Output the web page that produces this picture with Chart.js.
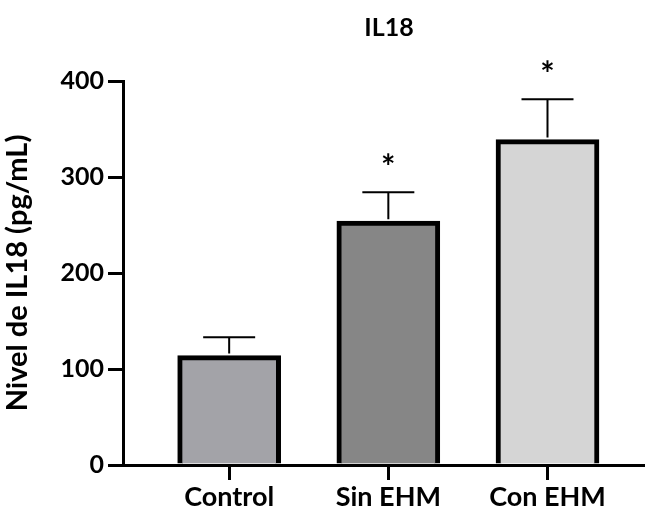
<!DOCTYPE html>
<html>
<head>
<meta charset="utf-8">
<script src="https://cdn.jsdelivr.net/npm/chart.js@4.4.1/dist/chart.umd.min.js"></script>
<style>
  html, body { margin: 0; padding: 0; background: #fff; }
  #wrap { width: 645px; height: 519px; }
</style>
</head>
<body>
<div id="wrap"><canvas id="il18Chart"></canvas></div>
<script>
// Data
const categories = ['Control', 'Sin EHM', 'Con EHM'];
const means = [114, 254, 339];
const errors = [19, 30, 42];          // upper SD/SEM bar length
const significant = [false, true, true];
const yTicks = [0, 100, 200, 300, 400];

const barColors = ['#a3a3a8', '#868686', '#d5d5d5'];
const fontFamily = 'Lato, "Open Sans", sans-serif';

// Error bars (upper half only), asterisks and the title centred over the plot
const errorBarPlugin = {
    id: 'errorBars',
    afterDatasetsDraw(chart) {
        const ctx = chart.ctx;
        const xs = chart.scales.x;
        const ys = chart.scales.y;
        const area = chart.chartArea;
        ctx.save();
        ctx.strokeStyle = '#000';
        ctx.fillStyle = '#000';
        means.forEach((m, i) => {
            const x = xs.getPixelForValue(i);
            const yTop = ys.getPixelForValue(m);
            const yErr = ys.getPixelForValue(m + errors[i]);
            ctx.lineWidth = 2;
            ctx.beginPath();
            ctx.moveTo(x, yTop - 2);
            ctx.lineTo(x, yErr);
            ctx.moveTo(x - 26, yErr);
            ctx.lineTo(x + 26, yErr);
            ctx.stroke();
            if (significant[i]) {
                ctx.font = 'bold 34px ' + fontFamily;
                ctx.textAlign = 'center';
                ctx.textBaseline = 'middle';
                ctx.fillText('*', x, yErr - 24);
            }
        });
        ctx.font = 'bold 25px ' + fontFamily;
        ctx.textAlign = 'center';
        ctx.textBaseline = 'middle';
        ctx.fillText('IL18', (area.left + area.right) / 2 + 6, 28);
        ctx.restore();
    }
};

new Chart(document.getElementById('il18Chart'), {
    type: 'bar',
    data: {
        datasets: [{
            data: means.map((v, i) => ({ x: i, y: v })),
            backgroundColor: barColors,
            borderColor: '#000',
            borderWidth: 5,
            borderSkipped: 'bottom',
            barThickness: 103
        }]
    },
    options: {
        responsive: true,
        maintainAspectRatio: false,
        animation: false,
        layout: { padding: { left: 0, right: 2, top: 81, bottom: 0 } },
        plugins: {
            legend: { display: false },
            tooltip: { enabled: false },
            title: { display: false }
        },
        scales: {
            x: {
                type: 'linear',
                offset: false,
                min: -0.667,
                max: 2.6,
                afterBuildTicks: scale => {
                    scale.ticks = categories.map((c, i) => ({ value: i }));
                },
                afterFit: scale => { scale.height = 54; },
                ticks: {
                    color: '#000',
                    padding: 1,
                    font: { family: fontFamily, size: 27, weight: 'bold' },
                    callback: v => categories[v]
                },
                grid: { display: true, offset: false, drawOnChartArea: false, drawTicks: true, tickLength: 15, color: '#000', lineWidth: 3 },
                border: { display: true, color: '#000', width: 3 }
            },
            y: {
                min: 0,
                max: 400,
                afterBuildTicks: scale => {
                    scale.ticks = yTicks.map(v => ({ value: v }));
                },
                afterFit: scale => { scale.width = 123; },
                ticks: {
                    color: '#000',
                    padding: 4,
                    font: { family: fontFamily, size: 25, weight: 'bold' }
                },
                title: {
                    display: true,
                    text: 'Nivel de IL18 (pg/mL)',
                    color: '#000',
                    font: { family: fontFamily, size: 29, weight: 'bold' },
                    padding: { top: 0, bottom: 0 }
                },
                grid: { display: true, drawOnChartArea: false, drawTicks: true, tickLength: 15, color: '#000', lineWidth: 3 },
                border: { display: true, color: '#000', width: 3 }
            }
        }
    },
    plugins: [errorBarPlugin]
});
</script>
</body>
</html>
